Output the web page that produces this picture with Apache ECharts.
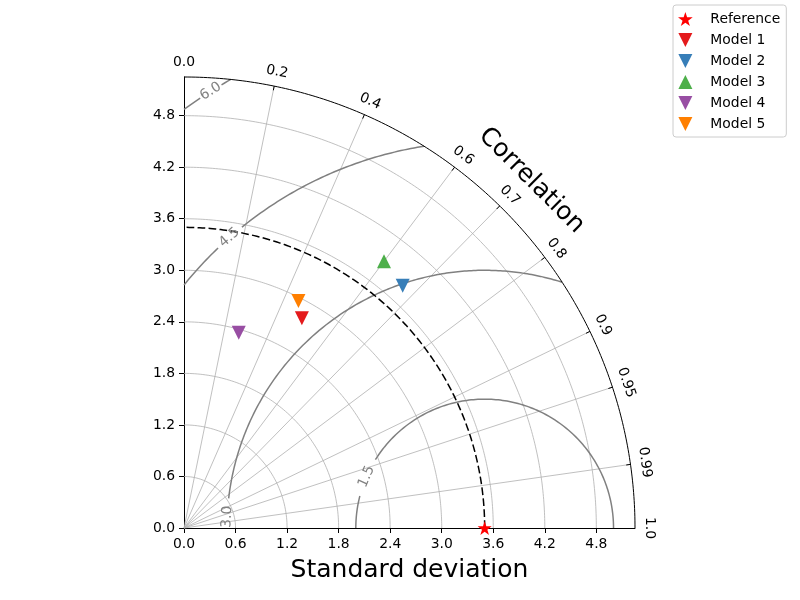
<!DOCTYPE html>
<html>
<head>
<meta charset="utf-8">
<script src="https://cdn.jsdelivr.net/npm/echarts@6/dist/echarts.min.js"></script>
<style>html,body{margin:0;padding:0;background:#fff}#main{width:800px;height:600px}</style>
</head>
<body>
<div id="main"></div>
<script>
// taylor diagram data
var refStd = 3.5;
var maxStd = 5.25;
var modelNames = ['Model 1', 'Model 2', 'Model 3', 'Model 4', 'Model 5'];
var modelStd = [2.80, 3.80, 3.88, 2.36, 2.96];
var modelCorr = [0.49, 0.67, 0.60, 0.27, 0.45];
var modelColors = ['#e41a1c', '#377eb8', '#4daf4a', '#984ea3', '#ff7f00'];
var modelShape = ['down', 'down', 'up', 'down', 'down'];
var stdTicks = [0, 0.6, 1.2, 1.8, 2.4, 3.0, 3.6, 4.2, 4.8];
var corrTicks = [0, 0.2, 0.4, 0.6, 0.7, 0.8, 0.9, 0.95, 0.99, 1.0];
var corrLabels = ['0.0', '0.2', '0.4', '0.6', '0.7', '0.8', '0.9', '0.95', '0.99', '1.0'];
var rmsLevels = [1.5, 3.0, 4.5, 6.0];
var rmsLabels = ['1.5', '3.0', '4.5', '6.0'];
// where the inline contour labels sit (degrees around the reference point)
var rmsLabelAngle = [156.5, 177.5, 131.3, 122.1];
var rmsGap = [[148, 165.6], [173.4, 181], [128.9, 133.6], [120.7, 123.5]];

var FONT = 'DejaVu Sans';
var starPath = 'path://M50,0 L61.23,34.55 L97.55,34.55 L68.16,55.9 L79.39,90.45 L50,69.1 L20.61,90.45 L31.84,55.9 L2.45,34.55 L38.77,34.55 Z';
var downPath = 'path://M0,0 L20,0 L10,20 Z';
var upPath = 'path://M10,0 L20,20 L0,20 Z';

var chart = echarts.init(document.getElementById('main'));

function pt(r, c) {
    return [r * c, r * Math.sqrt(Math.max(0, 1 - c * c))];
}
function arc(cx, r, a0, a1) {
    var pts = [];
    var n = Math.max(2, Math.ceil(Math.abs(a1 - a0) / 0.5));
    for (var i = 0; i <= n; i++) {
        var a = (a0 + (a1 - a0) * i / n) * Math.PI / 180;
        pts.push([cx + r * Math.cos(a), r * Math.sin(a)]);
    }
    return pts;
}
function line(pts, color, width, type, z) {
    return {
        type: 'line', data: pts, symbol: 'none', silent: true, clip: false,
        animation: false, z: z || 2,
        lineStyle: { color: color, width: width, type: type || 'solid', opacity: 1 }
    };
}
function textSeries(items, size, color) {
    return {
        type: 'scatter', silent: true, clip: false, animation: false, z: 5,
        symbolSize: 1, itemStyle: { color: 'transparent', opacity: 1 },
        data: items.map(function (it) {
            return {
                value: it.p,
                label: {
                    show: true, position: 'inside', formatter: it.t, rotate: it.rot,
                    fontFamily: FONT, fontSize: size, color: color,
                    textBorderWidth: 0, textBorderColor: 'transparent',
                    align: 'center', verticalAlign: 'middle'
                }
            };
        })
    };
}

var series = [];

// std grid arcs
stdTicks.forEach(function (s) {
    if (s > 0) series.push(line(arc(0, s, 0, 90), '#b0b0b0', 0.8));
});
// correlation grid lines
corrTicks.forEach(function (c) {
    if (c > 0 && c < 1) series.push(line([[0, 0], pt(maxStd, c)], '#b0b0b0', 0.8));
});
// outer arc + ticks
series.push(line(arc(0, maxStd, 0, 90), '#000', 1, 'solid', 3));
corrTicks.forEach(function (c) {
    if (c > 0 && c < 1) series.push(line([pt(maxStd - 0.05, c), pt(maxStd, c)], '#000', 1, 'solid', 3));
});
// reference std arc
series.push(line(arc(0, refStd, 0, 90), '#000', 1.5, [7.7, 3.3], 4));

// RMS contours
var rmsText = [];
rmsLevels.forEach(function (R, i) {
    var a0 = 0, a1 = 180;
    if (refStd + R > maxStd) {
        var x = (maxStd * maxStd - R * R + refStd * refStd) / (2 * refStd);
        var y = Math.sqrt(maxStd * maxStd - x * x);
        a0 = Math.atan2(y, x - refStd) * 180 / Math.PI;
    }
    if (R > refStd) {
        a1 = Math.atan2(Math.sqrt(R * R - refStd * refStd), -refStd) * 180 / Math.PI;
    }
    var g = rmsGap[i];
    if (g[0] > a0) series.push(line(arc(refStd, R, a0, Math.min(g[0], a1)), '#808080', 1.5));
    if (g[1] < a1) series.push(line(arc(refStd, R, Math.max(g[1], a0), a1), '#808080', 1.5));
    var a = rmsLabelAngle[i] * Math.PI / 180;
    rmsText.push({ p: [refStd + R * Math.cos(a), R * Math.sin(a)], t: rmsLabels[i], rot: rmsLabelAngle[i] - 90 });
});
series.push(textSeries(rmsText, 13.9, '#808080'));

// correlation tick labels
series.push(textSeries(corrTicks.map(function (c, i) {
    return { p: pt(maxStd + 0.17, c), t: corrLabels[i], rot: Math.acos(c) * 180 / Math.PI - 90 };
}), 13.9, '#000'));
// Correlation title
series.push(textSeries([{ p: pt(5.72, Math.SQRT1_2), t: 'Correlation', rot: -45 }], 25, '#000'));

// reference and models
series.push({
    type: 'scatter', name: 'Reference', data: [[refStd, 0]], symbol: starPath,
    symbolSize: 14, clip: false, z: 10, animation: false,
    itemStyle: { color: '#ff0000', opacity: 1 }
});
modelNames.forEach(function (name, i) {
    series.push({
        type: 'scatter', name: name, data: [pt(modelStd[i], modelCorr[i])],
        symbol: modelShape[i] === 'up' ? upPath : downPath,
        symbolSize: 14, clip: false, z: 10, animation: false,
        itemStyle: { color: modelColors[i], opacity: 1 }
    });
});

var axisCommon = {
    type: 'value', min: 0, max: maxStd, interval: 0.6,
    splitLine: { show: false },
    axisLine: { show: true, onZero: false, lineStyle: { color: '#000', width: 1 } },
    axisTick: { show: true, length: 5, customValues: stdTicks, lineStyle: { color: '#000' } },
    axisLabel: {
        customValues: stdTicks, margin: 9,
        fontFamily: FONT, fontSize: 13.9, color: '#000',
        formatter: function (v) { return v.toFixed(1); }
    }
};

chart.setOption({
    animation: false,
    textStyle: { fontFamily: FONT },
    grid: { left: 184, top: 77, width: 451, height: 451 },
    xAxis: echarts.util.merge({
        name: 'Standard deviation', nameLocation: 'middle', nameGap: 30,
        nameTextStyle: { fontFamily: FONT, fontSize: 25, color: '#000' }
    }, axisCommon, true),
    yAxis: echarts.util.clone(axisCommon),
    legend: {
        left: 673, top: 5, orient: 'vertical',
        data: ['Reference'].concat(modelNames),
        itemWidth: 30, itemHeight: 14, itemGap: 7,
        padding: [7, 6, 6, 5],
        borderColor: '#cccccc', borderWidth: 1, borderRadius: 3,
        textStyle: { fontFamily: FONT, fontSize: 13.9, color: '#000', padding: [0, 0, 0, 5] }
    },
    series: series
});
</script>
</body>
</html>
